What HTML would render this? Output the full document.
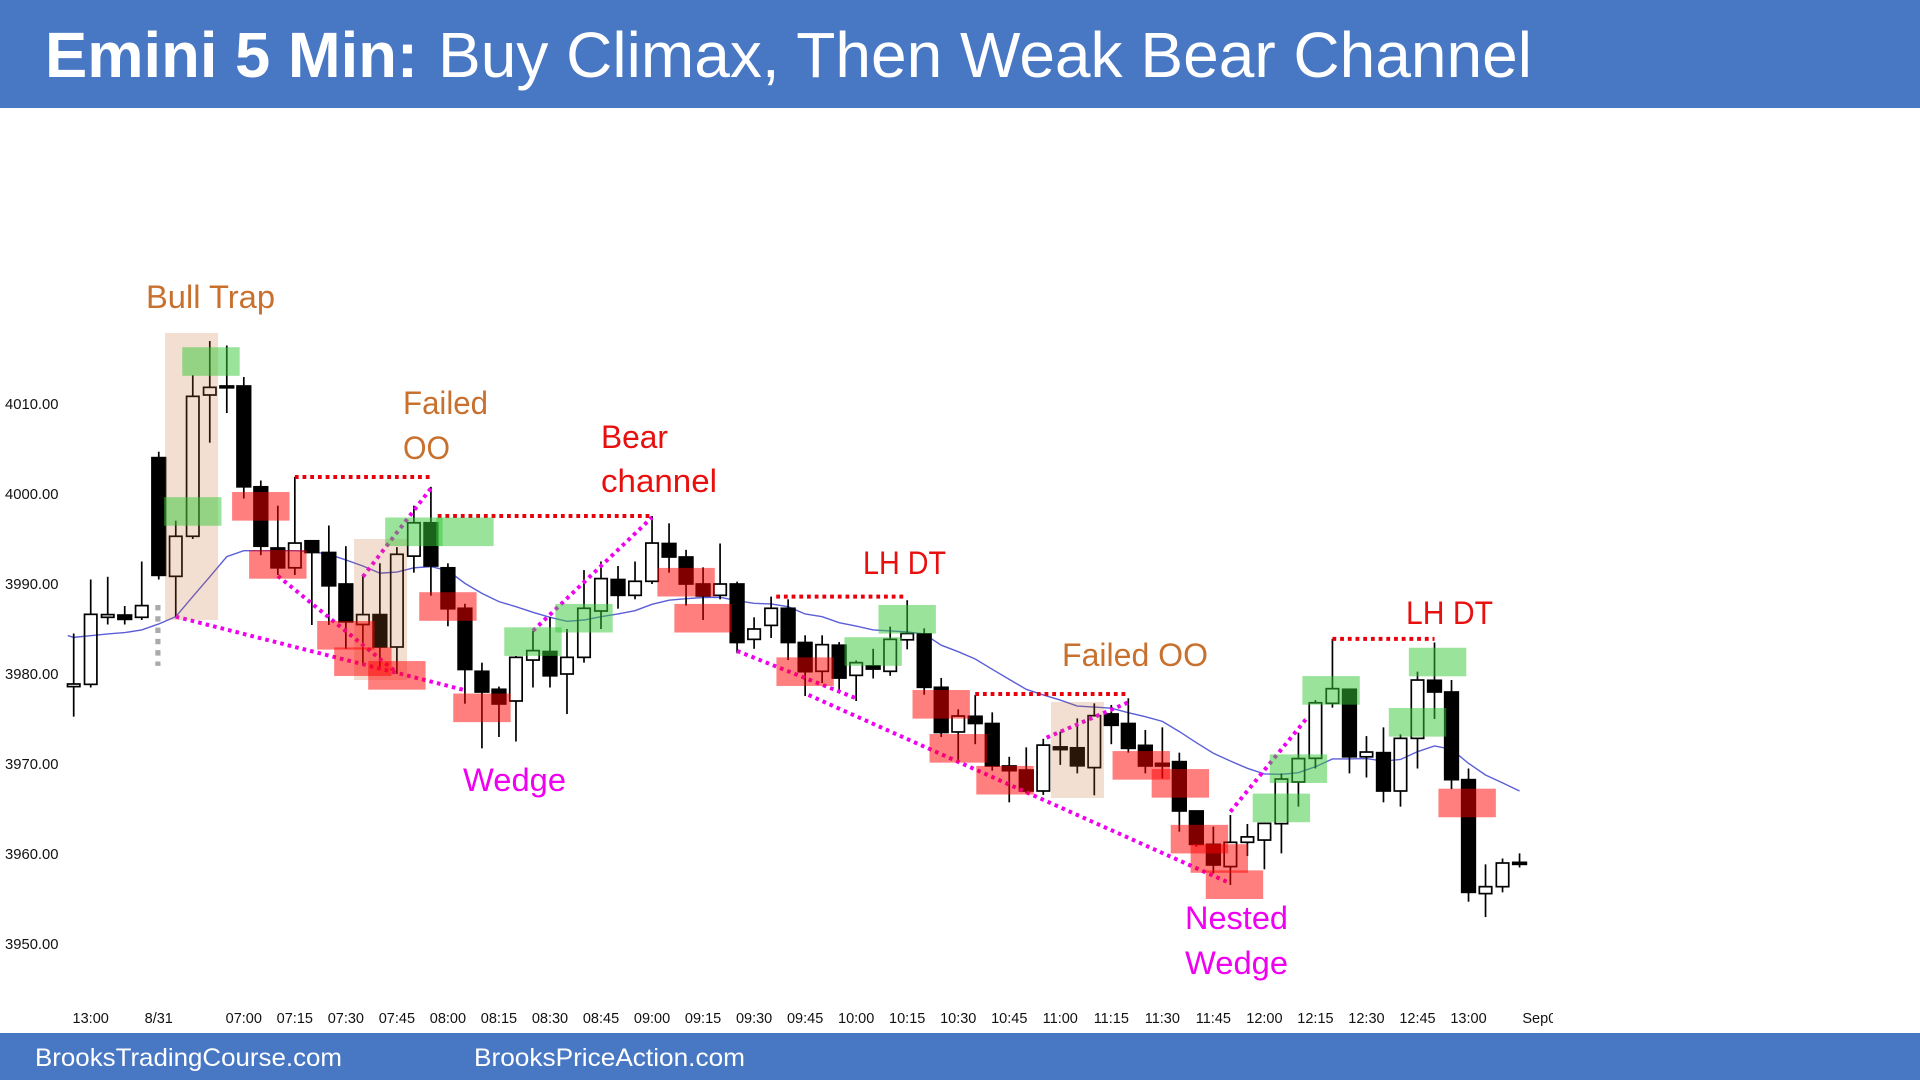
<!DOCTYPE html>
<html lang="en">
<head>
<meta charset="utf-8">
<title>Emini 5 Min: Buy Climax, Then Weak Bear Channel</title>
<style>
html,body{margin:0;padding:0;background:#fff;width:1920px;height:1080px;overflow:hidden}
svg{display:block}
text{font-family:"Liberation Sans",Arial,sans-serif}
.tick{font-size:14.5px;fill:#111}
.ann{font-size:32px}
.orange{fill:#c8702e}
.red{fill:#e8100f}
.mag{fill:#f000f0}
</style>
</head>
<body>
<svg id="chart" width="1920" height="1080" viewBox="0 0 1920 1080" xmlns="http://www.w3.org/2000/svg">
  <defs><clipPath id="plot-clip"><rect x="0" y="1000" width="1553" height="32"/></clipPath></defs>
  <rect x="0" y="0" width="1920" height="1080" fill="#fff"/>
  <rect x="0" y="0" width="1920" height="108" fill="#4878c4"/>
  <text x="45" y="77" font-size="64" font-weight="bold" fill="#fff" textLength="373" lengthAdjust="spacingAndGlyphs">Emini 5 Min:</text>
  <text x="438" y="77" font-size="64" fill="#fff" textLength="1094" lengthAdjust="spacingAndGlyphs">Buy Climax, Then Weak Bear Channel</text>
  <g id="y-axis"></g>
  <g id="x-axis" clip-path="url(#plot-clip)"></g>
  <g id="ma-layer"></g>
  <g id="candle-layer"></g>
  <g id="line-layer"></g>
  <g id="tan-layer"></g>
  <g id="box-layer"></g>
  <text class="ann orange" x="146" y="308" textLength="129" lengthAdjust="spacingAndGlyphs">Bull Trap</text>
  <text class="ann orange" x="403" y="414" textLength="85" lengthAdjust="spacingAndGlyphs">Failed</text>
  <text class="ann orange" x="403" y="459" textLength="47" lengthAdjust="spacingAndGlyphs">OO</text>
  <text class="ann red" x="601" y="448" textLength="67" lengthAdjust="spacingAndGlyphs">Bear</text>
  <text class="ann red" x="601" y="492" textLength="116" lengthAdjust="spacingAndGlyphs">channel</text>
  <text class="ann red" x="863" y="574" textLength="83" lengthAdjust="spacingAndGlyphs">LH DT</text>
  <text class="ann orange" x="1062" y="666" textLength="146" lengthAdjust="spacingAndGlyphs">Failed OO</text>
  <text class="ann mag" x="463" y="791" textLength="103" lengthAdjust="spacingAndGlyphs">Wedge</text>
  <text class="ann mag" x="1185" y="929" textLength="103" lengthAdjust="spacingAndGlyphs">Nested</text>
  <text class="ann mag" x="1185" y="974" textLength="103" lengthAdjust="spacingAndGlyphs">Wedge</text>
  <text class="ann red" x="1406" y="624" textLength="87" lengthAdjust="spacingAndGlyphs">LH DT</text>
  <rect x="0" y="1033" width="1920" height="47" fill="#4878c4"/>
  <text x="35" y="1066" font-size="25" fill="#fff" textLength="307" lengthAdjust="spacingAndGlyphs">BrooksTradingCourse.com</text>
  <text x="474" y="1066" font-size="25" fill="#fff" textLength="271" lengthAdjust="spacingAndGlyphs">BrooksPriceAction.com</text>
</svg>
<script>
const opens = [3978.6,3978.85,3986.3,3986.55,3986.3,4004.04,3990.85,3995.3,4011,4012,4012,4000.8,3994,3991.8,3994.8,3993.5,3990,3985.5,3986.6,3983,3993.1,3996.8,3991.8,3987.3,3980.3,3978.3,3977,3981.55,3982.5,3980,3981.85,3987,3990.5,3988.74,3990.3,3994.5,3993,3990,3988.74,3990,3983.85,3985.4,3987.3,3983.5,3980.3,3983.2,3979.85,3980.9,3980.3,3983.8,3984.45,3978.52,3973.56,3975.3,3974.5,3969.78,3969.33,3967,3971.9,3971.8,3969.6,3975.56,3974.5,3972.07,3970.07,3970.26,3964.78,3961.07,3958.6,3961.3,3961.55,3963.37,3968,3970.63,3976.74,3978.3,3970.8,3971.26,3967,3972.85,3979.3,3978,3968.26,3955.6,3956.37,3959.07];
const highs = [3984.5,3990.5,3990.8,3987.55,3992.5,4004.7,3997.04,4013.2,4017,4016.5,4013,4001.5,3998.7,4001.9,3994.8,3996.5,3994.2,3991,3992.3,3994.1,3998.7,4000.8,3992.3,3987.8,3981.26,3978.6,3982,3984.8,3986.3,3985,3991.55,3992.5,3992,3992.5,3997.55,3996.74,3993.8,3991.85,3994.5,3990.26,3986.3,3988.6,3988.3,3984.3,3984.3,3983.55,3981.5,3982.8,3985.26,3988.2,3985.07,3979.56,3976.07,3977.67,3975.74,3970.8,3971.85,3972.8,3973.6,3975.07,3976.74,3976.56,3977.3,3973.78,3974.07,3971.26,3964.78,3963.04,3964.33,3963.33,3963.5,3968.96,3973.48,3977.1,3983.9,3978.3,3973.1,3974.07,3973.3,3980.26,3983.5,3979.33,3969.5,3958.85,3959.5,3960.07];
const lows = [3975.26,3978.5,3985.5,3985.5,3986,3990.5,3986.37,3995,4005.7,4009,3999.5,3993.2,3991,3991,3985.45,3985.45,3982.8,3981,3980.6,3980,3991.26,3988.7,3985.3,3976.7,3971.74,3973,3972.5,3978.5,3978.5,3975.55,3981.26,3985,3987.26,3988.3,3990,3991.26,3987.6,3986,3988.3,3982.3,3982.8,3984,3981.55,3977.55,3979,3978,3977,3979.5,3979.8,3982.74,3977.7,3973,3970.4,3972.2,3969.26,3965.74,3966.74,3966.56,3969.9,3968.96,3966.52,3972.2,3971.26,3968.96,3968.4,3962.48,3960.8,3957.85,3956.56,3959.78,3958.3,3960.07,3965.26,3969.5,3976.26,3968.96,3968.5,3965.74,3965.26,3969.5,3975,3967.22,3954.7,3953,3955.74,3958.5];
const closes = [3978.89,3986.63,3986.6,3986.07,3987.6,3990.96,3995.3,4010.85,4011.85,4011.8,4000.8,3994.2,3991.8,3994.55,3993.5,3989.8,3985.8,3986.6,3983,3993.3,3996.8,3992,3987.25,3980.5,3978,3976.67,3981.85,3982.6,3979.8,3981.85,3987.3,3990.6,3988.74,3990.3,3994.55,3993,3990,3988.67,3990,3983.5,3985,3987.3,3983.5,3980.26,3983.26,3979.55,3981.26,3980.55,3983.85,3984.5,3978.52,3973.5,3975.33,3974.5,3969.78,3969.26,3967,3972.1,3971.6,3969.8,3975.37,3974.3,3971.74,3969.78,3969.78,3964.78,3961.07,3958.78,3961.3,3961.9,3963.4,3968.33,3970.6,3976.8,3978.37,3970.8,3971.33,3967,3972.85,3979.33,3978,3968.26,3955.74,3956.37,3959,3958.85];
const maValues = [3984.07,3984.26,3984.45,3984.6,3984.9,3985.56,3986.37,3988.6,3990.8,3993.04,3993.7,3993.7,3993.7,3993.7,3993.6,3993.3,3992.67,3992,3991.2,3991.33,3991.8,3991.93,3991.48,3990.07,3988.96,3988.04,3987.48,3986.85,3986.3,3985.85,3986,3986.37,3986.67,3987.04,3987.74,3988.2,3988.37,3988.5,3988.52,3988.15,3987.85,3987.78,3987.48,3986.67,3986.37,3985.7,3985.33,3984.9,3984.78,3984.67,3984.45,3983.2,3982.48,3981.67,3980.52,3979.4,3978.3,3977.67,3977.1,3976.44,3976.33,3976.2,3975.7,3975.26,3974.74,3973.6,3972.37,3971.2,3970.33,3969.52,3968.9,3968.85,3969.04,3969.7,3970.56,3970.56,3970.6,3970.33,3970.5,3971.37,3972,3971.63,3970.07,3968.78,3967.9,3967];
const yTicks = [4010,4000,3990,3980,3970,3960,3950];
const tickBars = [1,5,10,13,16,19,22,25,28,31,34,37,40,43,46,49,52,55,58,61,64,67,70,73,76,79,82,86.4];
const tickLabels = ["13:00","8/31","07:00","07:15","07:30","07:45","08:00","08:15","08:30","08:45","09:00","09:15","09:30","09:45","10:00","10:15","10:30","10:45","11:00","11:15","11:30","11:45","12:00","12:15","12:30","12:45","13:00","Sep01"];

const redBoxBars = [11,12,16,17,19,22,24,36,37,43,51,52,54.75,62.76,65.06,66.18,67.35,68.24,81.92];
const redBoxPrices = [3998.63,3992.18,3984.3,3981.37,3979.85,3987.5,3976.24,3990.2,3986.2,3980.26,3976.63,3971.74,3968.2,3969.85,3967.85,3961.65,3959.5,3956.59,3965.67];
const greenBoxBars = [8.07,7,20,23,27,30,47,49,71,72,73.92,79,80.18];
const greenBoxPrices = [4014.72,3998.06,3995.8,3995.8,3983.6,3986.2,3982.5,3986.08,3965.12,3969.48,3978.18,3974.63,3981.33];
const tanBars = [6.93,18.04,59.01];
const tanTops = [4017.89,3995,3976.89];
const tanBottoms = [3986,3979.33,3966.22];

const magentaFromBars = [6,12,17,27,39,43.2,57.2,68];
const magentaFromPrices = [3986.37,3990.9,3990.8,3984.8,3982.56,3977.67,3972.93,3964.7];
const magentaToBars = [23,19,21,34,46,68,62,72.5];
const magentaToPrices = [3978.2,3980.15,4000.63,3997.4,3977.3,3956.74,3976.85,3975.1];
const redLineFromBars = [13,21.4,41.3,53,74];
const redLineToBars = [21,34,49,62,80];
const redLinePrices = [4001.89,3997.55,3988.6,3977.78,3983.9];
const pullbackBar = 4.95;
const pullbackTop = 3987.67;
const pullbackBottom = 3980.9;

const SVG_NS = 'http://www.w3.org/2000/svg';
function xScale(i){ return 73.7 + 17.01 * i; }
function yScale(p){ return 494 + (4000 - p) * 9; }
function make(tag, parentId, attrs){
  const el = document.createElementNS(SVG_NS, tag);
  for (const k in attrs) el.setAttribute(k, attrs[k]);
  document.getElementById(parentId).appendChild(el);
  return el;
}

yTicks.forEach(function(v){
  const el = make('text', 'y-axis', {x: 5, y: yScale(v) + 5, 'font-size': 14.8, fill: '#111'});
  
  
  el.textContent = v.toFixed(2);
});
tickBars.forEach(function(b, i){
  const el = make('text', 'x-axis', {x: xScale(b), y: 1023, 'text-anchor': 'middle', class: 'tick'});
  
  
  el.textContent = tickLabels[i];
});

const maPoints = maValues.map(function(v, i){ return xScale(i) + ',' + yScale(v); });
const maLine = make('polyline', 'ma-layer', {points: xScale(-0.35) + ',' + yScale(maValues[0] + 0.2) + ' ' + maPoints.join(' '), fill: 'none', stroke: '#5b5fd6', 'stroke-width': 1.4});



opens.forEach(function(o, i){
  const c = closes[i];
  const up = c >= o;
  const cx = xScale(i);
  const top = yScale(Math.max(o, c));
  const bot = yScale(Math.min(o, c));
  const upper = make('line', 'candle-layer', {x1: cx, x2: cx, y1: yScale(highs[i]), y2: top, stroke: '#000', 'stroke-width': 1.7});
  
  
  const lower = make('line', 'candle-layer', {x1: cx, x2: cx, y1: bot, y2: yScale(lows[i]), stroke: '#000', 'stroke-width': 1.7});
  
  
  const w = up ? 12.4 : 13.6;
  const body = make('rect', 'candle-layer', {x: cx - w / 2, y: top, width: w, height: Math.max(bot - top, 0.6), fill: up ? 'none' : '#000', stroke: '#000', 'stroke-width': 1.7});
  
  
});

magentaFromBars.forEach(function(b, i){
  const el = make('line', 'line-layer', {x1: xScale(b), y1: yScale(magentaFromPrices[i]), x2: xScale(magentaToBars[i]), y2: yScale(magentaToPrices[i]), stroke: '#f000f0', 'stroke-width': 4, 'stroke-dasharray': '3.6 4.1'});
  
  
});
redLineFromBars.forEach(function(b, i){
  const el = make('line', 'line-layer', {x1: xScale(b), y1: yScale(redLinePrices[i]), x2: xScale(redLineToBars[i]), y2: yScale(redLinePrices[i]), stroke: '#e8000a', 'stroke-width': 4, 'stroke-dasharray': '3.8 3.9'});
  
  
});
const pullback = make('line', 'line-layer', {x1: xScale(pullbackBar), y1: yScale(pullbackTop), x2: xScale(pullbackBar), y2: yScale(pullbackBottom), stroke: '#aaa', 'stroke-width': 5.2, 'stroke-dasharray': '5.4 5.9'});



tanBars.forEach(function(b, i){
  const el = make('rect', 'tan-layer', {x: xScale(b) - 26.5, y: yScale(tanTops[i]), width: 53, height: yScale(tanBottoms[i]) - yScale(tanTops[i]), fill: 'rgba(197,106,37,0.21)'});
  
  
});
redBoxBars.forEach(function(b, i){
  const el = make('rect', 'box-layer', {x: xScale(b) - 28.7, y: yScale(redBoxPrices[i]) - 14.3, width: 57.4, height: 28.6, fill: 'rgba(255,0,0,0.5)'});
  
  
});
greenBoxBars.forEach(function(b, i){
  const el = make('rect', 'box-layer', {x: xScale(b) - 28.7, y: yScale(greenBoxPrices[i]) - 14.3, width: 57.4, height: 28.6, fill: 'rgba(54,200,54,0.5)'});
  
  
});
</script>
</body>
</html>
